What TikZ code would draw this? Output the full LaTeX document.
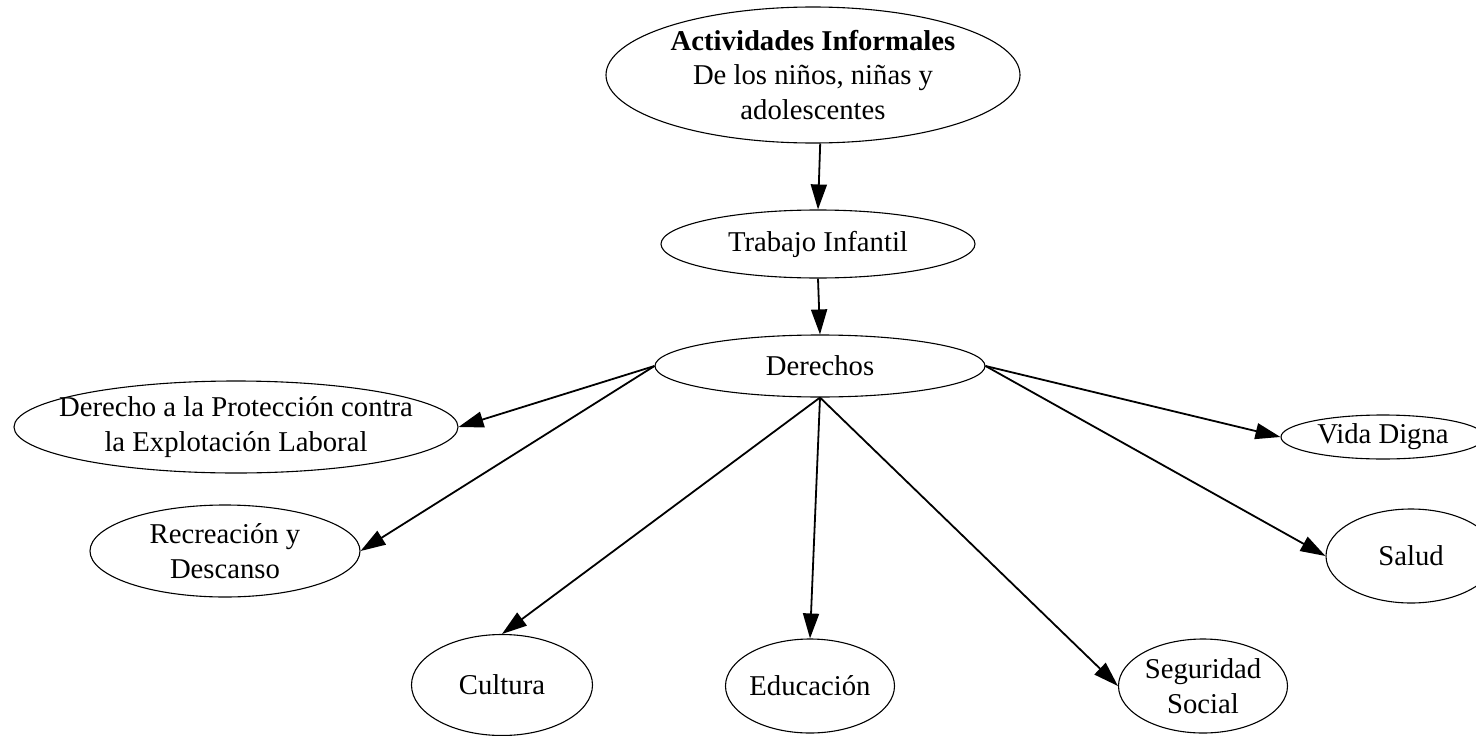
\documentclass[tikz,border=0pt]{standalone}
\usepackage{fontspec}
\setmainfont{Liberation Serif}
\usetikzlibrary{arrows.meta,shapes.geometric}
\begin{document}
\begin{tikzpicture}[x=1pt,y=-1pt,
  nd/.style={draw, ellipse, line width=1.1pt, inner xsep=-300pt, inner ysep=-300pt,
    align=center, font=\fontsize{28.7}{34.5}\selectfont},
  edge/.style={line width=1.8pt, -{Triangle[length=25pt,width=16pt]}}]
\useasboundingbox (0,0) rectangle (1476,736);
\clip (0,0) rectangle (1476,736);
\node[nd, minimum width=414pt, minimum height=136pt] (top) at (813,75)
  {\textbf{Actividades Informales}\\De los niños, niñas y\\adolescentes};
\node[nd, minimum width=314pt, minimum height=68pt] (trab) at (818,244) {Trabajo Infantil};
\node[nd, minimum width=330pt, minimum height=62pt] (der) at (820,366) {Derechos};
\node[nd, minimum width=444pt, minimum height=92pt] (prot) at (236,427)
  {Derecho a la Protección contra\\la Explotación Laboral};
\node[nd, minimum width=270pt, minimum height=92pt] (recr) at (225,551)
  {Recreación y\\Descanso};
\node[nd, minimum width=181pt, minimum height=101pt] (cult) at (502,685) {Cultura};
\node[nd, minimum width=169pt, minimum height=94pt] (educ) at (810,686) {Educación};
\node[nd, minimum width=169pt, minimum height=94pt] (segu) at (1203,686) {Seguridad\\Social};
\node[nd, minimum width=204pt, minimum height=44pt] (vida) at (1383,437) {Vida Digna};
\node[nd, minimum width=170pt, minimum height=94pt] (salud) at (1411,556) {Salud};
\draw[edge] (top.-84) -- (trab.north);
\draw[edge] (trab.south) -- (der.north);
\draw[edge] (der.west) -- (prot.east);
\draw[edge] (der.west) -- (recr.east);
\draw[edge] (der.south) -- (cult.north);
\draw[edge] (der.south) -- (educ.north);
\draw[edge] (der.south) -- (segu.west);
\draw[edge] (der.east) -- (vida.west);
\draw[edge] (der.east) -- (salud.west);
\end{tikzpicture}
\end{document}
